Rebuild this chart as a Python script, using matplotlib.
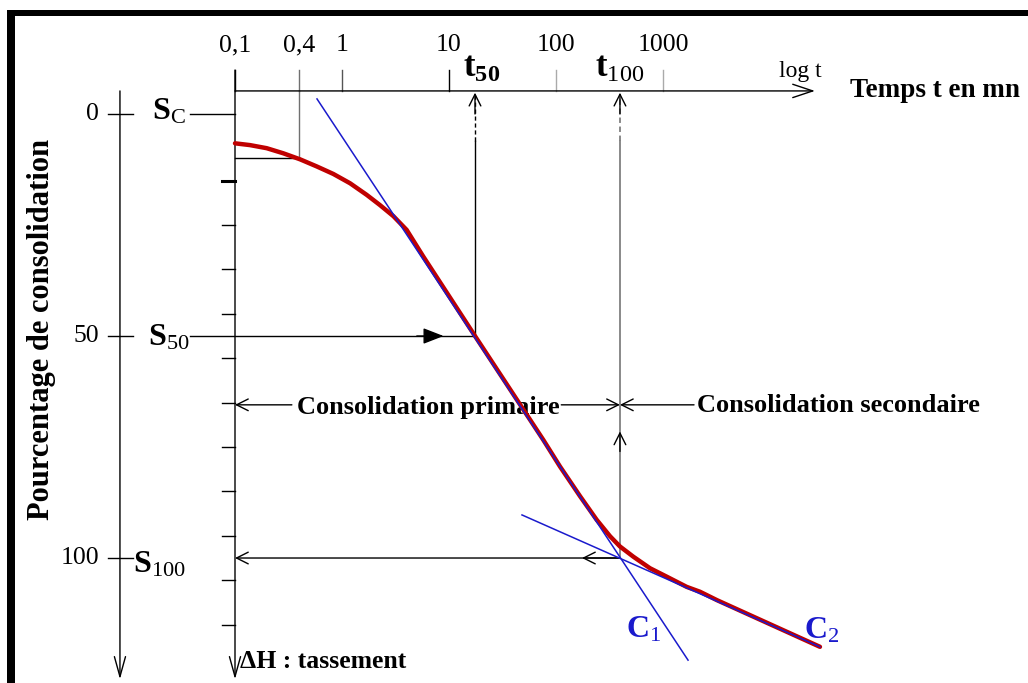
import matplotlib
matplotlib.use("Agg")
import matplotlib.pyplot as plt
from matplotlib.patches import Rectangle
import numpy as np

plt.rcParams['font.family'] = ['Liberation Serif', 'DejaVu Serif']
plt.rcParams['mathtext.fontset'] = 'custom'
plt.rcParams['mathtext.rm'] = 'Liberation Serif'
plt.rcParams['mathtext.bf'] = 'Liberation Serif:bold'
plt.rcParams['mathtext.it'] = 'Liberation Serif:italic'

# ---------------- data ----------------
time_ticks = [0.1, 0.4, 1, 10, 100, 1000]
time_labels = ['0,1', '0,4', '1', '10', '100', '1000']
pct_ticks = [0, 50, 100]
pct_labels = ['0', '50', '100']
minor_pct = [15, 25, 35, 45, 55, 65, 75, 85, 95, 105, 115]

curve_t = [0.1, 0.138, 0.198, 0.283, 0.405, 0.58, 0.83, 1.19, 1.70, 2.26, 3.02, 4.02,
           5.75, 17.5, 76.1, 109, 168, 240, 320, 396, 528, 756, 1083, 1665, 2218,
           3200, 9380, 29300]
curve_s = [6.6, 7.0, 7.7, 8.85, 10.2, 11.8, 13.5, 15.6, 18.2, 20.5, 23.0, 26.1,
           32.1, 50, 73.4, 79.4, 86.1, 91.4, 95.1, 97.4, 99.7, 102.3, 104.2, 106.5, 107.6,
           109.5, 114.6, 120]

c1_t = [0.584, 1714]
c1_s = [-3.4, 123]
c2_t = [48.1, 29300]
c2_s = [90.3, 120]

t50 = 17.5
t100 = 396
s_c, s_50, s_100 = 0, 50, 100
s_04 = 9.9          # settlement read at t = 0,4

# ---------------- figure ----------------
fig = plt.figure(figsize=(10.28, 6.83), dpi=100)
ax = fig.add_axes([0, 0, 1, 1])
ax.set_xscale('log')
ax.set_xlim(10 ** (-342 / 107), 10 ** ((1028 - 342) / 107))
ax.set_ylim(128.15, -25.68)
ax.axis('off')

# borders
fig.add_artist(Rectangle((7 / 1028, 0), 8 / 1028, 673 / 683, transform=fig.transFigure,
                         color='black', lw=0))
fig.add_artist(Rectangle((7 / 1028, 667 / 683), 1021 / 1028, 6 / 683,
                         transform=fig.transFigure, color='black', lw=0))

K = 'black'
y_axis_t = -5.2      # level of time axis
tick_top = -9.9


def arrow(x0, y0, x1, y1, style='->', color=K, lw=1.0, ms=16):
    ax.annotate('', xy=(x1, y1), xytext=(x0, y0),
                arrowprops=dict(arrowstyle=style, color=color, lw=lw,
                                shrinkA=0, shrinkB=0, mutation_scale=ms))


# time axis
arrow(0.1, y_axis_t, 26300, y_axis_t, style='->,head_length=0.9,head_width=0.3', ms=16)
tick_colors = ['black', '#707070', '#555555', 'black', '#aaaaaa', '#aaaaaa']
for t, lab, c in zip(time_ticks, time_labels, tick_colors):
    ax.plot([t, t], [tick_top, y_axis_t], color=c, lw=1)
    ax.text(t, -15.5, lab, ha='center', va='center', fontsize=18.5)
ax.text(19100, -9.6, 'log t', ha='center', va='center', fontsize=17)
ax.text(55900, -5.4, 'Temps t en mn', ha='left', va='center', fontsize=19.5,
        fontweight='bold')

# main vertical axis (t = 0,1)
arrow(0.1, tick_top, 0.1, 127.3, style='->,head_length=0.9,head_width=0.25', ms=16)
for s in minor_pct:
    ax.plot([0.0756, 0.1], [s, s], color=K, lw=2.2 if s == 15 else 1)
ax.text(0.111, 123.4, 'ΔH : tassement', ha='left', va='center', fontsize=18.5,
        fontweight='bold')

# left percentage axis
arrow(0.00841, y_axis_t, 0.00841, 127.3, style='->,head_length=0.9,head_width=0.25', ms=16)
for s, lab in zip(pct_ticks, pct_labels):
    ax.plot([0.0065, 0.01114], [s, s], color=K, lw=1)
    ax.text(0.0054, s, lab, ha='right', va='center', fontsize=18.5)
ax.text(0.00157, 48.5, 'Pourcentage de consolidation', rotation=90, ha='center',
        va='center', fontsize=22, fontweight='bold')

# S labels
ax.text(0.0243, s_c - 0.5, r'$\mathbf{S}_{\mathrm{C}}$', ha='center', va='center', fontsize=23)
ax.text(0.0243, s_50 + 0.5, r'$\mathbf{S}_{50}$', ha='center', va='center', fontsize=23)
ax.text(0.0195, s_100 + 1.5, r'$\mathbf{S}_{100}$', ha='center', va='center', fontsize=23)
ax.plot([0.038, 0.1], [s_c, s_c], color=K, lw=1)

# construction at t = 0,4
ax.plot([0.1, 0.4], [s_04, s_04], color=K, lw=1)
ax.plot([0.4, 0.4], [y_axis_t, s_04], color='#707070', lw=1)

# S50 horizontal arrow
ax.plot([0.038, t50], [s_50, s_50], color=K, lw=1)
arrow(5.0, s_50, 8.9, s_50, style='-|>,head_length=0.9,head_width=0.35', ms=14)

# t50 vertical
ax.plot([t50, t50], [s_50, 6], color=K, lw=1)
ax.plot([t50, t50], [6, y_axis_t + 0.6], color=K, lw=1, ls=(0, (3, 2)))
arrow(t50, 0, t50, y_axis_t + 0.4, style='->,head_length=0.6,head_width=0.3', ms=14)
ax.text(t50 * 1.15, -10.2, r'$\mathbf{t}_{\mathbf{50}}$', ha='center', va='center', fontsize=25)

# t100 vertical
ax.plot([t100, t100], [s_100, 6], color='#808080', lw=1.3)
ax.plot([t100, t100], [6, y_axis_t + 0.6], color='#808080', lw=1.3, ls=(0, (3, 2)))
arrow(t100, 0, t100, y_axis_t + 0.4, style='->,head_length=0.6,head_width=0.3', ms=14)
arrow(t100, 76, t100, 71.5, style='->,head_length=0.6,head_width=0.3', ms=14)
ax.text(t100, -10.2, r'$\mathbf{t}_{100}$', ha='center', va='center', fontsize=25)

# S100 horizontal arrow
arrow(t100, s_100, 0.1, s_100, style='->,head_length=0.6,head_width=0.3', ms=14)
arrow(t100, s_100, 175, s_100, style='->,head_length=0.6,head_width=0.3', ms=14)

# consolidation arrows
y_cons = 65.5
arrow(0.34, y_cons, 0.1, y_cons, style='->,head_length=0.6,head_width=0.3', ms=14)
arrow(112, y_cons, t100, y_cons, style='->,head_length=0.6,head_width=0.3', ms=14)
arrow(1950, y_cons, t100, y_cons, style='->,head_length=0.6,head_width=0.3', ms=14)
ax.text(6.36, 66.2, 'Consolidation primaire', ha='center', va='center', fontsize=19,
        fontweight='bold')
ax.text(43200, 65.6, 'Consolidation secondaire', ha='center', va='center', fontsize=19,
        fontweight='bold')

# tangents and curve
BLUE = '#1a1acc'
ax.plot(c1_t, c1_s, color=BLUE, lw=1.1, zorder=4)
ax.plot(c2_t, c2_s, color=BLUE, lw=1.1, zorder=4)
ax.plot(curve_t, curve_s, color='#c00000', lw=3.2, solid_capstyle='round',
        solid_joinstyle='round', zorder=3)
ax.text(664, 116.2, r'$\mathbf{C}_{1}$', ha='center', va='center', fontsize=23, color=BLUE)
ax.text(30600, 116.4, r'$\mathbf{C}_{2}$', ha='center', va='center', fontsize=23, color=BLUE)

fig.savefig('out.png', dpi=100)
